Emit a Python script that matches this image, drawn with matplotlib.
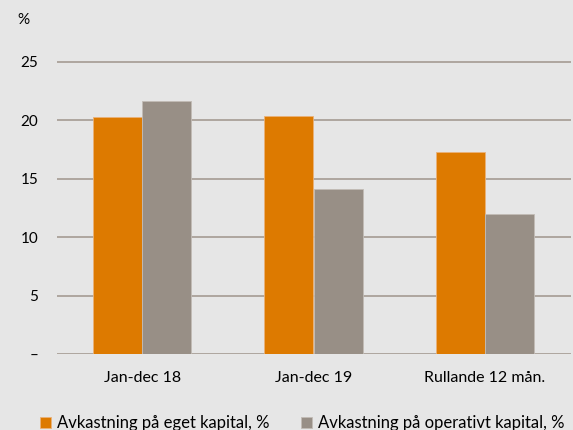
import matplotlib
matplotlib.use("Agg")
import matplotlib.pyplot as plt
import numpy as np

# values
categories = ["Jan-dec 18", "Jan-dec 19", "Rullande 12 mån."]
eget_kapital = [20.3, 20.4, 17.3]
operativt_kapital = [21.7, 14.1, 12.0]
series_names = ["Avkastning på eget kapital, %", "Avkastning på operativt kapital, %"]
y_ticks = [0, 5, 10, 15, 20, 25]
y_tick_labels = ["–", "5", "10", "15", "20", "25"]

BG = "#e6e6e6"
ORANGE = "#dd7a00"
GREY = "#988f86"
GRID = "#aaa199"

plt.rcParams['font.family'] = ['Lato', 'DejaVu Sans']

fig = plt.figure(figsize=(5.73, 4.30), dpi=100, facecolor=BG)
ax = fig.add_axes([56.5 / 573, 76 / 430, 514 / 573, 303.7 / 430])
ax.set_facecolor(BG)

x = np.arange(len(categories))
w = 0.286
b1 = ax.bar(x - w / 2, eget_kapital, w, color=ORANGE, edgecolor="#eab27a", linewidth=0.6, zorder=3)
b2 = ax.bar(x + w / 2, operativt_kapital, w, color=GREY, edgecolor="#c2bcb6", linewidth=0.6, zorder=3)

ax.set_xlim(-0.5, 2.5)
ax.set_ylim(0, 26)
ax.set_yticks(y_ticks)
ax.set_yticklabels(y_tick_labels)
ax.set_xticks(x)
ax.set_xticklabels(categories)
ax.grid(axis="y", color=GRID, linewidth=1.3, zorder=0)
ax.tick_params(axis="y", length=0, pad=13, labelsize=11)
ax.tick_params(axis="x", length=0, pad=12, labelsize=11.5)
for s in ax.spines.values():
    s.set_visible(False)

fig.text(17 / 573, 1 - 20 / 430, "%", fontsize=11, ha="left", va="center")

fig.legend([b1, b2], series_names, ncol=2, loc="center left",
           bbox_to_anchor=(40 / 573, 1 - 423 / 430), frameon=False,
           handlelength=0.65, handleheight=0.65, handletextpad=0.35,
           columnspacing=1.9, borderpad=0, borderaxespad=0, fontsize=12)

fig.savefig("out.png", dpi=100, facecolor=BG)
